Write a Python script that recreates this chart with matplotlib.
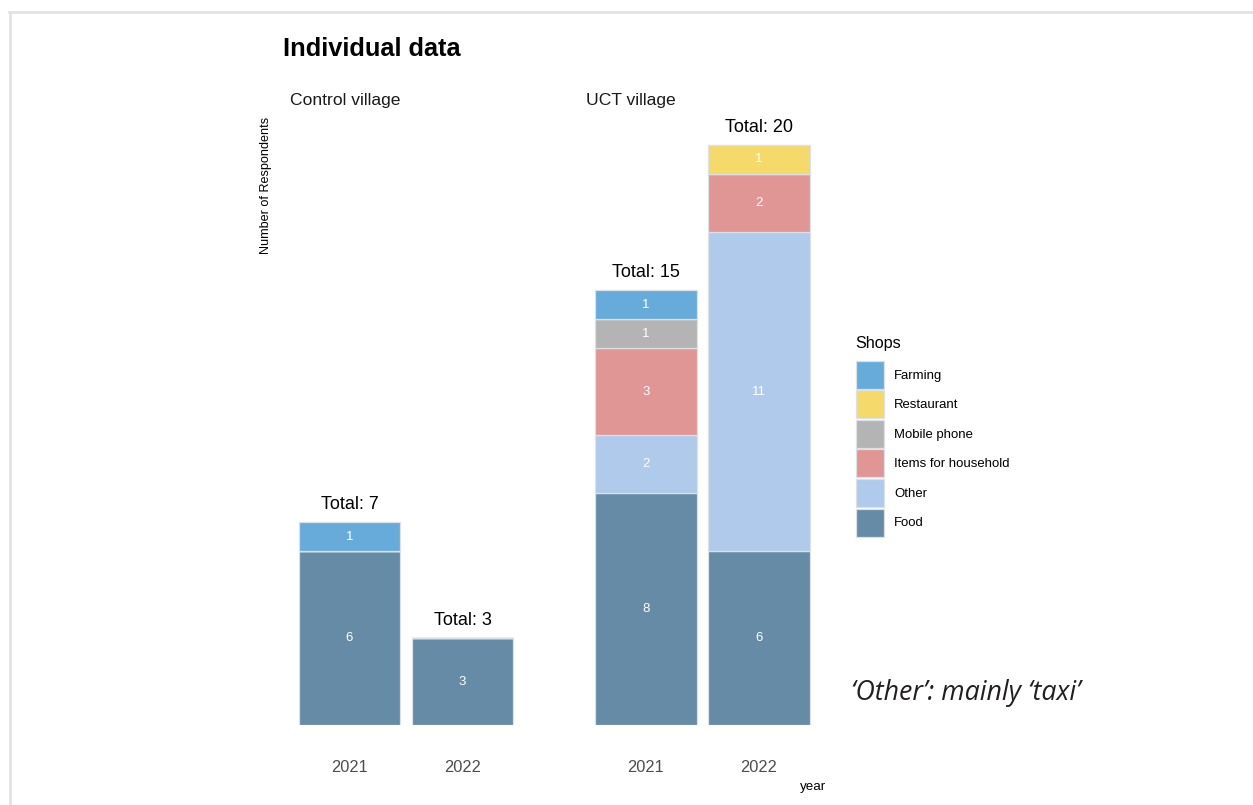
import matplotlib
matplotlib.use('Agg')
import matplotlib.pyplot as plt
from matplotlib import font_manager
from matplotlib.patches import Patch
from matplotlib.lines import Line2D

# data
years = ['2021', '2022']
shops = ['Food', 'Other', 'Items for household', 'Mobile phone', 'Restaurant', 'Farming']
colors = ['#668ba6', '#afcaea', '#e09694', '#b4b4b4', '#f5d96b', '#67abdb']

control_food = [6, 3]
control_other = [0, 0]
control_household = [0, 0]
control_mobile = [0, 0]
control_restaurant = [0, 0]
control_farming = [1, 0]

uct_food = [8, 6]
uct_other = [2, 11]
uct_household = [3, 2]
uct_mobile = [1, 0]
uct_restaurant = [0, 1]
uct_farming = [1, 0]

panels = [
    ('Control village', [control_food, control_other, control_household,
                         control_mobile, control_restaurant, control_farming]),
    ('UCT village', [uct_food, uct_other, uct_household,
                     uct_mobile, uct_restaurant, uct_farming]),
]

# fonts: narrow face if there is one, otherwise plain Liberation at smaller sizes
names = {f.name for f in font_manager.fontManager.ttflist}
has_narrow = 'Liberation Sans Narrow' in names
narrow = 'Liberation Sans Narrow' if has_narrow else 'Liberation Sans'
k = 1.0 if has_narrow else 0.84
regular = 'Liberation Sans'
plt.rcParams['font.family'] = [narrow, 'DejaVu Sans']

W, H = 1253, 805
fig = plt.figure(figsize=(W / 100, H / 100), dpi=100)

def fx(px):
    return px / W

def fy(py):
    return 1 - py / H

# light frame round the picture
fig.add_artist(Line2D([fx(9), 1], [fy(12), fy(12)], color='#e1e3e3', lw=1.9))
fig.add_artist(Line2D([fx(9.5), fx(9.5)], [fy(12), 0], color='#e1e3e3', lw=1.9))

unit = 29.0  # pixels per respondent
base = 725
top = 110
ymax = (base - top) / unit
panel_left = [281.7, 578.0]
panel_w = 248.6

for (name, series), left in zip(panels, panel_left):
    ax = fig.add_axes([fx(left), fy(base), panel_w / W, (base - top) / H])
    x = [0, 1]
    bottom = [0, 0]
    for vals, col in zip(series, colors):
        ax.bar(x, vals, width=0.9, bottom=bottom, color=col,
               edgecolor='#dde1e6', linewidth=0.9)
        for i, v in enumerate(vals):
            if v > 0:
                ax.text(x[i], bottom[i] + v / 2, str(v), ha='center', va='center',
                        color='white', fontsize=9.5, family=regular)
        bottom = [b + v for b, v in zip(bottom, vals)]
    for i, t in enumerate(bottom):
        ax.text(x[i], t + 0.6, f'Total: {t}', ha='center', va='center',
                fontsize=13, family=regular, color='black')
    ax.set_xlim(-0.6, 1.6)
    ax.set_ylim(0, ymax)
    ax.set_xticks(x)
    ax.set_xticklabels(years, fontsize=14 * k, color='#4d4d4d')
    ax.tick_params(axis='x', length=0, pad=25.5)
    ax.set_yticks([])
    for s in ax.spines.values():
        s.set_visible(False)
    ax.patch.set_alpha(0)
    fig.text(fx(left + 8.5), fy(100), name, fontsize=15 * k, ha='left', va='center',
             color='#1a1a1a')

fig.text(fx(283), fy(49), 'Individual data', fontsize=21.8 * k, fontweight='bold',
         ha='left', va='center', color='black')
fig.text(fx(266), fy(185), 'Number of Respondents', rotation=90, fontsize=10.8 * k,
         ha='center', va='center', color='black')
fig.text(fx(813), fy(787), 'year', fontsize=11.5 * k, ha='center', va='center', color='black')

# legend, top of stack first; square keys of 28 px, 29.5 px apart
lfs = 11.3 * k
fs_px = lfs * 100 / 72
hh = (28 / fs_px - 0.245) / 0.65
handles = [Patch(facecolor=c, edgecolor='#dde1e6', linewidth=0.9, label=s)
           for s, c in zip(shops[::-1], colors[::-1])]
leg = fig.legend(handles=handles, loc='upper left',
                 bbox_to_anchor=(fx(856), fy(361)), frameon=False,
                 fontsize=lfs, handlelength=28 / fs_px,
                 handleheight=hh, labelspacing=1.5 / fs_px, handletextpad=0.75,
                 borderpad=0, borderaxespad=0)
fig.text(fx(855), fy(343), 'Shops', fontsize=13.8 * k, ha='left', va='center',
         color='black')

fig.text(fx(851), fy(693), '\u2018Other\u2019: mainly \u2018taxi\u2019', fontsize=19.3,
         style='italic', family=['Open Sans', 'DejaVu Sans'], ha='left', va='center',
         color='#231f20')

fig.savefig('out.png', dpi=100)
